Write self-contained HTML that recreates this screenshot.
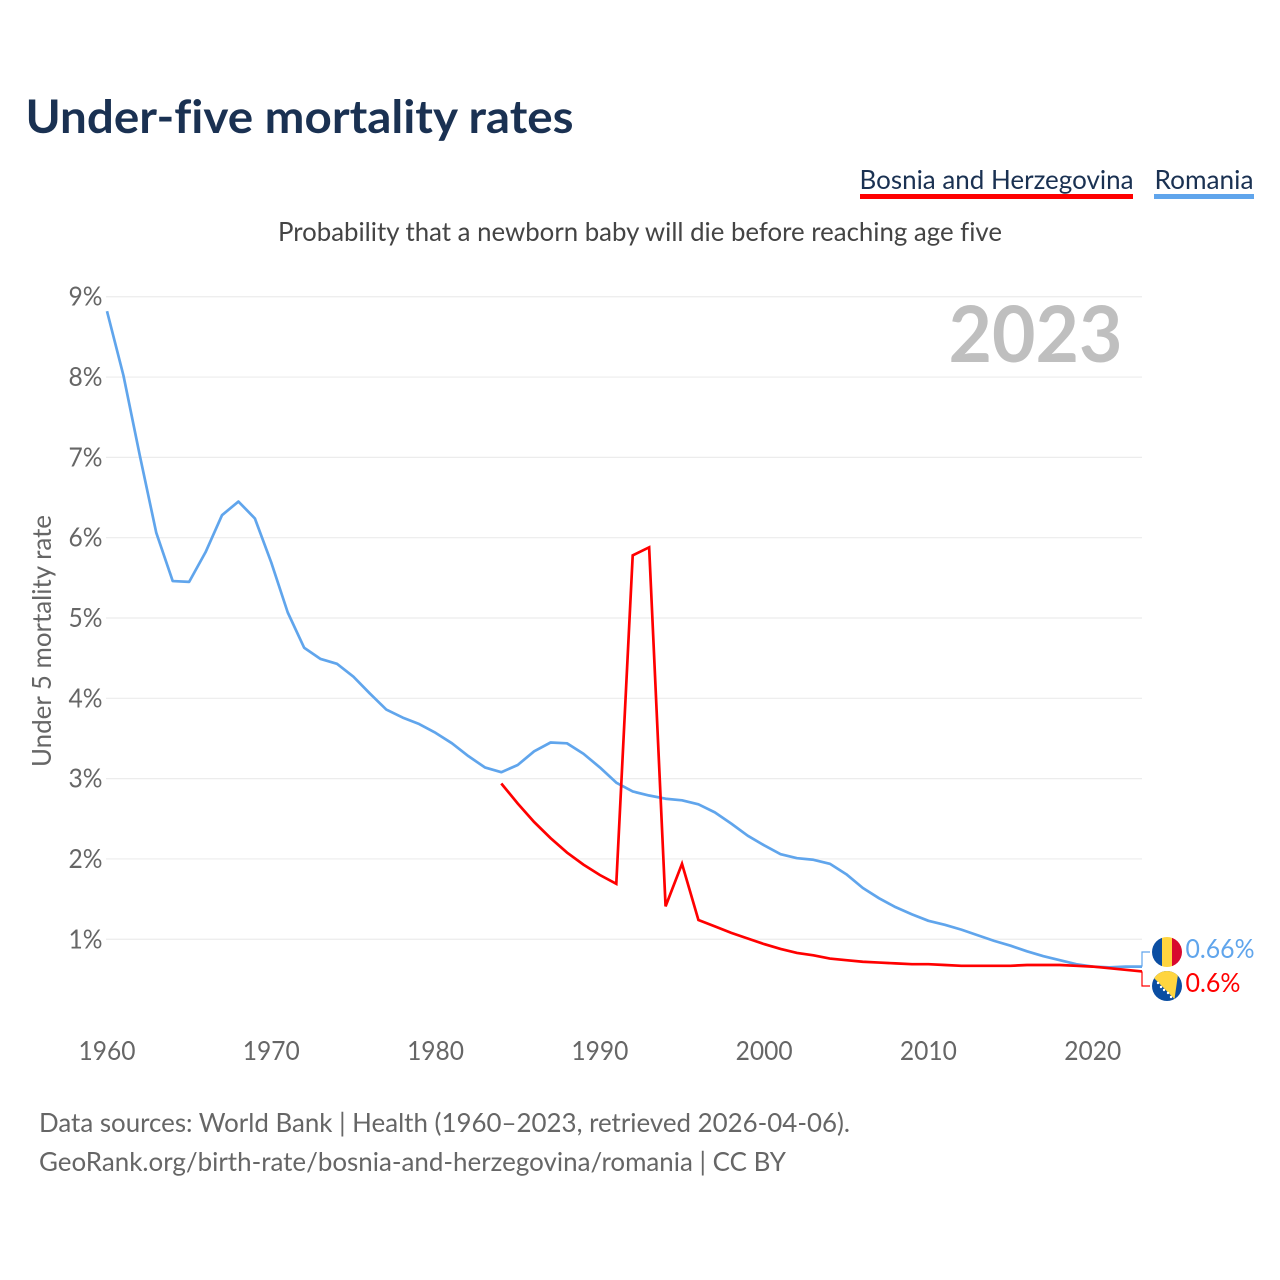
<!DOCTYPE html>
<html lang="en">
<head>
<meta charset="utf-8">
<title>Under-five mortality rates</title>
<style>
html,body{margin:0;padding:0;background:#fff}
svg{display:block}
text{font-family:"Lato","Carlito","Liberation Sans",sans-serif;font-variant-ligatures:none}
</style>
</head>
<body>
<svg id="chart" xmlns="http://www.w3.org/2000/svg" width="1280" height="1280" viewBox="0 0 1280 1280">
<defs>
<clipPath id="clip-ro"><circle cx="1167" cy="952" r="15"/></clipPath>
<clipPath id="clip-ba"><circle cx="1167" cy="986" r="15"/></clipPath>
</defs>
<rect width="1280" height="1280" fill="#fff"/>
<text x="25.5" y="133" font-size="46" font-weight="700" fill="#1a3152" textLength="548" lengthAdjust="spacingAndGlyphs">Under-five mortality rates</text>
<text x="859.5" y="189" font-size="26" fill="#1a3152" textLength="274" lengthAdjust="spacingAndGlyphs">Bosnia and Herzegovina</text>
<rect x="860" y="194" width="273" height="5" fill="#ff0000"/>
<text x="1154.5" y="189" font-size="26" fill="#1a3152" textLength="99" lengthAdjust="spacingAndGlyphs">Romania</text>
<rect x="1154" y="194" width="100" height="5" fill="#60a5ec"/>
<text x="278" y="241" font-size="26" fill="#444" textLength="724" lengthAdjust="spacingAndGlyphs">Probability that a newborn baby will die before reaching age five</text>
<text transform="translate(51,767) rotate(-90)" font-size="26" fill="#666" textLength="252" lengthAdjust="spacingAndGlyphs">Under 5 mortality rate</text>
<g id="grid"></g>
<g id="yticks"></g>
<g id="xticks"></g>
<text x="948.5" y="362" font-size="78" font-weight="700" fill="#bfbfbf" textLength="174" lengthAdjust="spacingAndGlyphs">2023</text>
<path id="line-romania" fill="none" stroke="#60a5ec" stroke-width="2.7" stroke-linejoin="round"/>
<path id="line-bosnia" fill="none" stroke="#ff0000" stroke-width="2.7" stroke-linejoin="miter"/>
<path id="connector-romania" fill="none" stroke="#60a5ec" stroke-width="1.2"/>
<path id="connector-bosnia" fill="none" stroke="#ff0000" stroke-width="1.2"/>
<g clip-path="url(#clip-ro)">
<rect x="1152" y="937" width="10" height="30" fill="#0b4ea2"/>
<rect x="1162" y="937" width="10" height="30" fill="#ffd53f"/>
<rect x="1172" y="937" width="10" height="30" fill="#d8092e"/>
</g>
<g clip-path="url(#clip-ba)">
<rect x="1152" y="971" width="30" height="30" fill="#0b4ea2"/>
<polygon points="1148,971 1178.5,971 1174.5,999 1152,976" fill="#ffd53f"/>
<g fill="#fff">
<circle cx="1158" cy="983" r="1.2"/><circle cx="1161" cy="987" r="1.2"/><circle cx="1164" cy="990" r="1.2"/>
<circle cx="1168" cy="993" r="1.2"/><circle cx="1171" cy="997" r="1.2"/>
</g>
</g>
<text id="value-romania" x="1185.5" y="958" font-size="26" fill="#60a5ec" textLength="69" lengthAdjust="spacingAndGlyphs"></text>
<text id="value-bosnia" x="1185.5" y="992" font-size="26" fill="#ff0000" textLength="55" lengthAdjust="spacingAndGlyphs"></text>
<text x="39" y="1132" font-size="26" fill="#666" textLength="811" lengthAdjust="spacingAndGlyphs">Data sources: World Bank | Health (1960–2023, retrieved 2026-04-06).</text>
<text x="39" y="1171" font-size="26" fill="#666" textLength="747" lengthAdjust="spacingAndGlyphs">GeoRank.org/birth-rate/bosnia-and-herzegovina/romania | CC BY</text>
</svg>
<script>
const romaniaStartYear = 1960;
const bosniaStartYear = 1984;
const romaniaValues = [8.82,8.02,7.02,6.06,5.46,5.45,5.82,6.28,6.45,6.24,5.69,5.07,4.63,4.49,4.43,4.27,4.06,3.86,3.76,3.68,3.57,3.44,3.28,3.14,3.08,3.17,3.34,3.45,3.44,3.31,3.14,2.95,2.84,2.79,2.75,2.73,2.68,2.58,2.44,2.29,2.17,2.06,2.01,1.99,1.94,1.81,1.64,1.51,1.40,1.31,1.23,1.18,1.12,1.05,0.98,0.92,0.85,0.79,0.74,0.69,0.66,0.65,0.66,0.66];
const bosniaValues = [2.94,2.69,2.46,2.26,2.08,1.93,1.80,1.69,5.78,5.88,1.41,1.94,1.24,1.16,1.08,1.01,0.94,0.88,0.83,0.80,0.76,0.74,0.72,0.71,0.70,0.69,0.69,0.68,0.67,0.67,0.67,0.67,0.68,0.68,0.68,0.67,0.66,0.64,0.62,0.60];
const yTickValues = [1,2,3,4,5,6,7,8,9];
const xTickYears = [1960,1970,1980,1990,2000,2010,2020];

const NS = 'http://www.w3.org/2000/svg';
const xOf = function (year) { return 107 + (year - 1960) * (1142 - 107) / 63; };
const yOf = function (value) { return 1019.6 - value * 80.32; };

function makeText(content, x, y, anchor) {
  const t = document.createElementNS(NS, 'text');
  t.textContent = content;
  t.setAttribute('x', x);
  t.setAttribute('y', y);
  t.setAttribute('text-anchor', anchor);
  t.setAttribute('font-size', '26');
  t.setAttribute('fill', '#666');
  return t;
}

yTickValues.forEach(function (v) {
  const line = document.createElementNS(NS, 'line');
  
  
  line.setAttribute('x1', 106);
  line.setAttribute('x2', 1142);
  line.setAttribute('y1', yOf(v));
  line.setAttribute('y2', yOf(v));
  line.setAttribute('stroke', '#ececec');
  line.setAttribute('stroke-width', '1.2');
  document.getElementById('grid').appendChild(line);

  const label = makeText(v + '%', 68.5, yOf(v) + 9, 'start');
  
  
  label.setAttribute('textLength', '34');
  label.setAttribute('lengthAdjust', 'spacingAndGlyphs');
  document.getElementById('yticks').appendChild(label);
});

xTickYears.forEach(function (year) {
  const label = makeText(String(year), xOf(year), 1060, 'middle');
  
  
  label.setAttribute('textLength', '57');
  label.setAttribute('lengthAdjust', 'spacingAndGlyphs');
  document.getElementById('xticks').appendChild(label);
});

function linePath(values, startYear) {
  return values.map(function (v, i) {
    return (i ? 'L' : 'M') + xOf(startYear + i).toFixed(2) + ' ' + yOf(v).toFixed(2);
  }).join(' ');
}

document.getElementById('line-romania').setAttribute('d', linePath(romaniaValues, romaniaStartYear));
document.getElementById('line-bosnia').setAttribute('d', linePath(bosniaValues, bosniaStartYear));

const romaniaLast = romaniaValues[romaniaValues.length - 1];
const bosniaLast = bosniaValues[bosniaValues.length - 1];
document.getElementById('connector-romania').setAttribute('d', 'M1142 ' + yOf(romaniaLast).toFixed(2) + ' V952 H1150');
document.getElementById('connector-bosnia').setAttribute('d', 'M1142 ' + yOf(bosniaLast).toFixed(2) + ' V986 H1150');
document.getElementById('value-romania').textContent = romaniaLast + '%';
document.getElementById('value-bosnia').textContent = bosniaLast + '%';
</script>
</body>
</html>
